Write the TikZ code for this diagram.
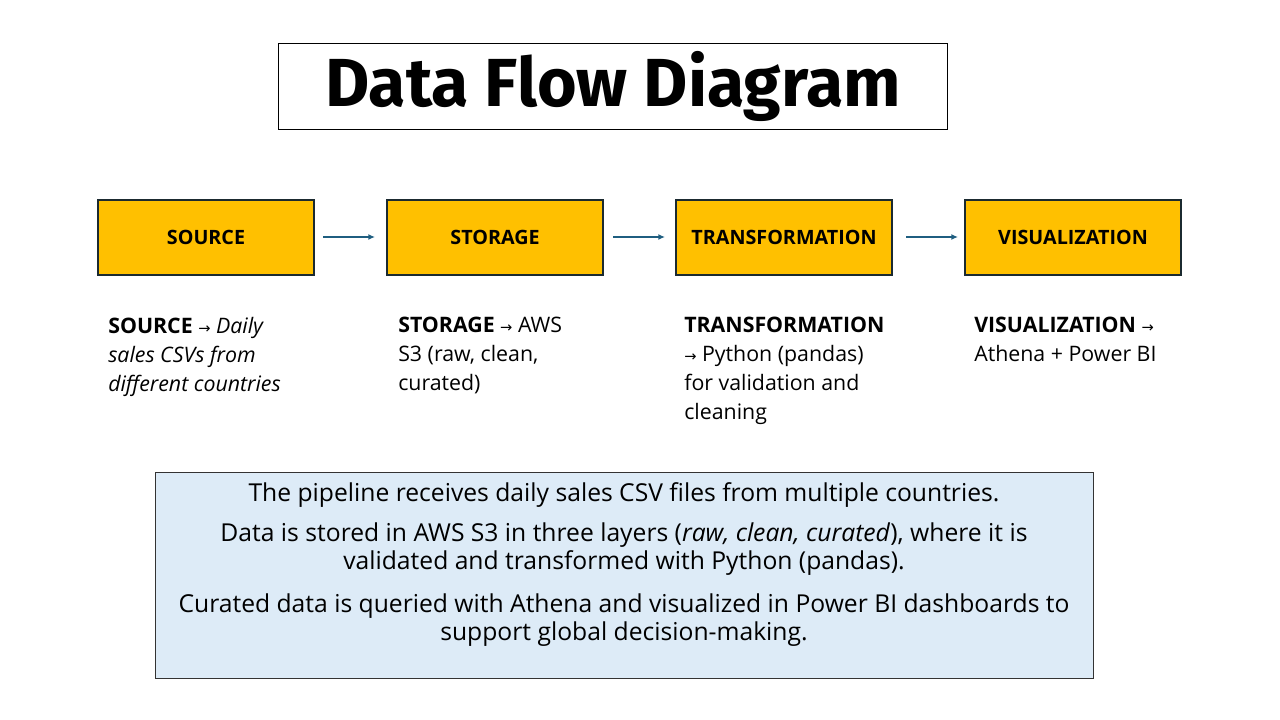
\documentclass[tikz,border=0pt]{standalone}
\usepackage{fontspec}
\usetikzlibrary{arrows.meta}
\setmainfont{Open Sans}
\newfontfamily\titlefont{Fira Sans}
\newfontfamily\arrfont{DejaVu Sans}
\definecolor{boxfill}{HTML}{FFC000}
\definecolor{boxline}{HTML}{1B2A30}
\definecolor{arrowc}{HTML}{1F5E80}
\definecolor{notefill}{HTML}{DDEBF7}
\definecolor{noteline}{HTML}{333333}
\newcommand{\ar}{{\arrfont\fontsize{11}{13}\selectfont →}}
\begin{document}
\begin{tikzpicture}[x=0.75pt,y=-0.75pt,
  stagebox/.style={draw=boxline,line width=1.5pt,fill=boxfill,minimum width=162pt,minimum height=56pt,font=\fontsize{14.8}{16}\selectfont\bfseries,inner sep=0pt},
  flow/.style={draw=arrowc,line width=1pt,-{Latex[length=5pt,width=4.5pt]}},
  desc/.style={anchor=north west,align=left,font=\fontsize{16}{21.6}\selectfont,inner sep=0pt},
  note/.style={font=\fontsize{18.5}{21.3}\selectfont,align=center,anchor=north,inner sep=0pt}
]
\useasboundingbox (0,0) rectangle (1280,720);
\node[draw=black,line width=0.8pt,minimum width=502pt,minimum height=64pt,inner sep=0pt,font=\titlefont\fontsize{51}{58}\selectfont\bfseries] (title) at (613,86.5) {Data Flow Diagram};
\node[stagebox] (src) at (206,237.5) {SOURCE};
\node[stagebox] (sto) at (495,237.5) {STORAGE};
\node[stagebox] (tra) at (784,237.5) {TRANSFORMATION};
\node[stagebox] (vis) at (1073,237.5) {VISUALIZATION};
\coordinate (a1s) at (323,237); \coordinate (a1e) at (375,237);
\coordinate (a2s) at (613,237); \coordinate (a2e) at (665,237);
\coordinate (a3s) at (906,237); \coordinate (a3e) at (958,237);
\draw[flow] (a1s) -- (a1e);
\draw[flow] (a2s) -- (a2e);
\draw[flow] (a3s) -- (a3e);
\node[desc] (d1) at (108,317) {\textbf{SOURCE} \ar\ \textit{Daily}\\\textit{sales CSVs from}\\\textit{different countries}};
\node[desc] (d2) at (398,317) {\textbf{STORAGE} \ar\ AWS\\S3 (raw, clean,\\curated)};
\node[desc] (d3) at (684,317) {\textbf{TRANSFORMATION}\\\ar\ Python (pandas)\\for validation and\\cleaning};
\node[desc] (d4) at (974,317) {\textbf{VISUALIZATION} \ar\\Athena + Power BI};
\node[draw=noteline,line width=0.6pt,fill=notefill,minimum width=704pt,minimum height=154pt,inner sep=0pt] (note) at (624.5,575.5) {};
\node[note] (n1) at (624,482) {The pipeline receives daily sales CSV files from multiple countries.};
\node[note] (n2) at (624,522) {Data is stored in AWS S3 in three layers (\textit{raw, clean, curated}), where it is\\validated and transformed with Python (pandas).};
\node[note] (n3) at (624,593) {Curated data is queried with Athena and visualized in Power BI dashboards to\\support global decision-making.};
\end{tikzpicture}
\end{document}
